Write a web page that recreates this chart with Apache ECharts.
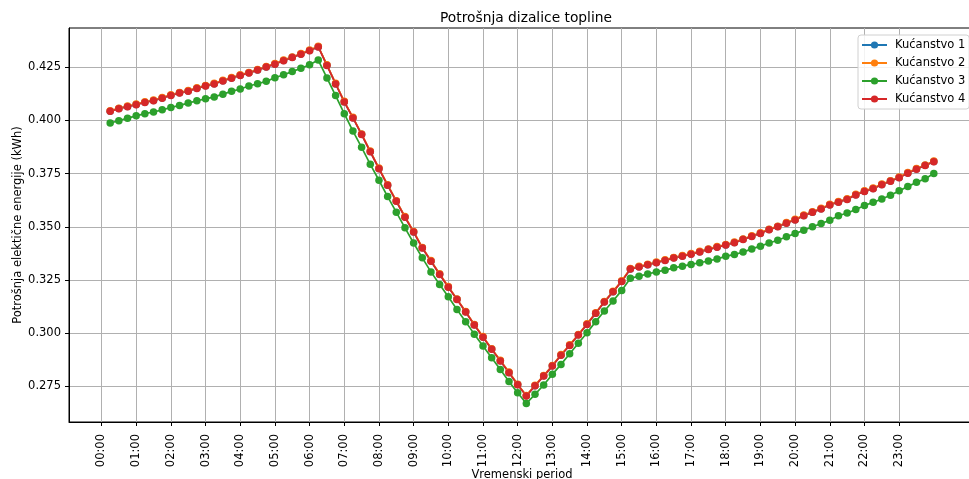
<!DOCTYPE html>
<html><head><meta charset="utf-8">
<script src="https://cdn.jsdelivr.net/npm/echarts@6/dist/echarts.min.js"></script>
<style>html,body{margin:0;padding:0;background:#fff}#c{width:969px;height:479px}</style>
</head><body><div id="c"></div>
<script>
const times = ['00:15','00:30','00:45','01:00','01:15','01:30','01:45','02:00','02:15','02:30','02:45','03:00',
'03:15','03:30','03:45','04:00','04:15','04:30','04:45','05:00','05:15','05:30','05:45','06:00',
'06:15','06:30','06:45','07:00','07:15','07:30','07:45','08:00','08:15','08:30','08:45','09:00',
'09:15','09:30','09:45','10:00','10:15','10:30','10:45','11:00','11:15','11:30','11:45','12:00',
'12:15','12:30','12:45','13:00','13:15','13:30','13:45','14:00','14:15','14:30','14:45','15:00',
'15:15','15:30','15:45','16:00','16:15','16:30','16:45','17:00','17:15','17:30','17:45','18:00',
'18:15','18:30','18:45','19:00','19:15','19:30','19:45','20:00','20:15','20:30','20:45','21:00',
'21:15','21:30','21:45','22:00','22:15','22:30','22:45','23:00','23:15','23:30','23:45','24:00'];
const tickLabels = ['00:00','01:00','02:00','03:00','04:00','05:00','06:00','07:00','08:00','09:00','10:00','11:00',
'12:00','13:00','14:00','15:00','16:00','17:00','18:00','19:00','20:00','21:00','22:00','23:00'];
const yTicks = [0.275,0.300,0.325,0.350,0.375,0.400,0.425];
const seriesNames = ['Kućanstvo 1','Kućanstvo 2','Kućanstvo 3','Kućanstvo 4'];
const k1 = [0.4044,0.4056,0.4066,0.4075,0.4086,0.4094,0.4106,0.4119,0.4130,0.4139,
0.4152,0.4163,0.4173,0.4187,0.4200,0.4213,0.4224,0.4238,0.4252,0.4266,
0.4282,0.4297,0.4313,0.4329,0.4347,0.4260,0.4173,0.4088,0.4013,0.3935,
0.3854,0.3774,0.3696,0.3621,0.3546,0.3476,0.3401,0.3339,0.3277,0.3217,
0.3159,0.3100,0.3039,0.2982,0.2925,0.2870,0.2815,0.2758,0.2705,0.2753,
0.2799,0.2846,0.2897,0.2943,0.2992,0.3042,0.3094,0.3147,0.3195,0.3244,
0.3302,0.3312,0.3322,0.3332,0.3343,0.3354,0.3363,0.3372,0.3383,0.3394,
0.3405,0.3415,0.3426,0.3441,0.3456,0.3470,0.3487,0.3501,0.3518,0.3533,
0.3553,0.3569,0.3585,0.3604,0.3617,0.3630,0.3651,0.3667,0.3680,0.3699,
0.3715,0.3732,0.3753,0.3772,0.3789,0.3807];
const k2 = [0.4046,0.4058,0.4068,0.4077,0.4088,0.4096,0.4108,0.4121,0.4132,0.4141,
0.4154,0.4165,0.4175,0.4189,0.4202,0.4215,0.4226,0.4240,0.4254,0.4268,
0.4284,0.4299,0.4315,0.4331,0.4349,0.4262,0.4175,0.4090,0.4015,0.3937,
0.3856,0.3776,0.3698,0.3623,0.3548,0.3478,0.3403,0.3341,0.3279,0.3219,
0.3161,0.3102,0.3041,0.2984,0.2927,0.2872,0.2817,0.2760,0.2707,0.2755,
0.2801,0.2848,0.2899,0.2945,0.2994,0.3044,0.3096,0.3149,0.3197,0.3246,
0.3304,0.3314,0.3324,0.3334,0.3345,0.3356,0.3365,0.3374,0.3385,0.3396,
0.3407,0.3417,0.3428,0.3443,0.3458,0.3472,0.3489,0.3503,0.3520,0.3535,
0.3555,0.3571,0.3587,0.3606,0.3619,0.3632,0.3653,0.3669,0.3682,0.3701,
0.3717,0.3734,0.3755,0.3774,0.3791,0.3809];
const k3 = [0.3988,0.3999,0.4011,0.4022,0.4032,0.4040,0.4050,0.4061,0.4071,0.4082,
0.4093,0.4102,0.4111,0.4124,0.4137,0.4148,0.4162,0.4173,0.4184,0.4201,
0.4215,0.4230,0.4246,0.4262,0.4284,0.4200,0.4117,0.4032,0.3950,0.3874,
0.3794,0.3719,0.3642,0.3569,0.3495,0.3424,0.3354,0.3288,0.3229,0.3171,
0.3111,0.3054,0.2995,0.2939,0.2884,0.2829,0.2772,0.2720,0.2669,0.2712,
0.2756,0.2806,0.2853,0.2903,0.2952,0.3002,0.3054,0.3104,0.3151,0.3201,
0.3258,0.3268,0.3278,0.3288,0.3296,0.3307,0.3315,0.3323,0.3331,0.3339,
0.3349,0.3361,0.3370,0.3381,0.3396,0.3409,0.3424,0.3437,0.3453,0.3468,
0.3484,0.3500,0.3515,0.3531,0.3552,0.3565,0.3581,0.3600,0.3615,0.3631,
0.3648,0.3669,0.3690,0.3709,0.3726,0.3751];
const k4 = [0.4043,0.4055,0.4065,0.4074,0.4085,0.4093,0.4105,0.4118,0.4129,0.4138,
0.4151,0.4162,0.4172,0.4186,0.4199,0.4212,0.4223,0.4237,0.4251,0.4265,
0.4281,0.4296,0.4312,0.4328,0.4346,0.4259,0.4172,0.4087,0.4012,0.3934,
0.3853,0.3773,0.3695,0.3620,0.3545,0.3475,0.3400,0.3338,0.3276,0.3216,
0.3158,0.3099,0.3038,0.2981,0.2924,0.2869,0.2814,0.2757,0.2704,0.2752,
0.2798,0.2845,0.2896,0.2942,0.2991,0.3041,0.3093,0.3146,0.3194,0.3243,
0.3301,0.3311,0.3321,0.3331,0.3342,0.3353,0.3362,0.3371,0.3382,0.3393,
0.3404,0.3414,0.3425,0.3440,0.3455,0.3469,0.3486,0.3500,0.3517,0.3532,
0.3552,0.3568,0.3584,0.3603,0.3616,0.3629,0.3650,0.3666,0.3679,0.3698,
0.3714,0.3731,0.3752,0.3771,0.3788,0.3806];
const colors = ['#1f77b4','#ff7f0e','#2ca02c','#d62728'];

function toHours(s){ const p = s.split(':'); return Number(p[0]) + Number(p[1]) / 60; }
const xs = times.map(toHours);
const tickPos = tickLabels.map(toHours);
const allSeries = [k1, k2, k3, k4];
const FONT = 'DejaVu Sans';

const chart = echarts.init(document.getElementById('c'), null, {renderer: 'canvas'});
chart.setOption({
  animation: false,
  backgroundColor: '#fff',
  textStyle: {fontFamily: FONT},
  title: {
    text: 'Potrošnja dizalice topline',
    left: 521, top: 6, textAlign: 'center',
    textStyle: {fontFamily: FONT, fontSize: 13.8, fontWeight: 'normal', color: '#000'}
  },
  legend: {
    orient: 'vertical', left: 858, top: 35,
    itemWidth: 25, itemHeight: 9, itemGap: 6,
    padding: [4, 4, 4, 3],
    borderColor: '#d0d0d0', borderWidth: 1, borderRadius: 3,
    backgroundColor: 'rgba(255,255,255,0.85)',
    textStyle: {fontFamily: FONT, fontSize: 11.5, color: '#000', padding: [0, 0, 0, 3]},
    data: seriesNames
  },
  grid: {
    left: 69, top: 28, width: 906, height: 394,
    outerBoundsMode: 'none', containLabel: false,
    show: true, borderColor: '#000', borderWidth: 1, backgroundColor: 'transparent'
  },
  xAxis: {
    type: 'value', min: -0.9375, max: 25.1875,
    name: 'Vremenski period', nameLocation: 'middle', nameGap: 47, nameMoveOverlap: false,
    nameTextStyle: {fontFamily: FONT, fontSize: 11.5, color: '#000', verticalAlign: 'top'},
    axisLine: {show: true, onZero: false, lineStyle: {color: '#000', width: 1}},
    axisTick: {show: true, length: 4, customValues: tickPos, lineStyle: {color: '#000'}},
    axisLabel: {
      customValues: tickPos, rotate: 90, margin: 12,
      fontFamily: FONT, fontSize: 11.5, color: '#000',
      formatter: function (v) {
        for (let i = 0; i < tickPos.length; i++) if (Math.abs(tickPos[i] - v) < 1e-6) return tickLabels[i];
        return '';
      }
    },
    splitLine: {show: true, lineStyle: {color: '#b0b0b0', width: 1}}
  },
  yAxis: {
    type: 'value', min: 0.2582, max: 0.4435,
    name: 'Potrošnja elektične energije (kWh)', nameLocation: 'middle', nameGap: 45, nameMoveOverlap: false,
    nameTextStyle: {fontFamily: FONT, fontSize: 11.5, color: '#000'},
    axisLine: {show: true, onZero: false, lineStyle: {color: '#000', width: 1}},
    axisTick: {show: true, length: 4, customValues: yTicks, lineStyle: {color: '#000'}},
    axisLabel: {
      customValues: yTicks, margin: 8,
      fontFamily: FONT, fontSize: 11.5, color: '#000',
      formatter: function (v) { return v.toFixed(3); }
    },
    splitLine: {show: true, lineStyle: {color: '#b0b0b0', width: 1}}
  },
  series: allSeries.map(function (arr, si) {
    return {
      name: seriesNames[si],
      type: 'line',
      data: arr.map(function (v, i) { return [xs[i], v]; }),
      symbol: 'circle', symbolSize: 7.5, showAllSymbol: true,
      itemStyle: {color: colors[si]},
      lineStyle: {color: colors[si], width: 1.7},
      emphasis: {disabled: true},
      clip: true
    };
  })
});
</script>
</body></html>
